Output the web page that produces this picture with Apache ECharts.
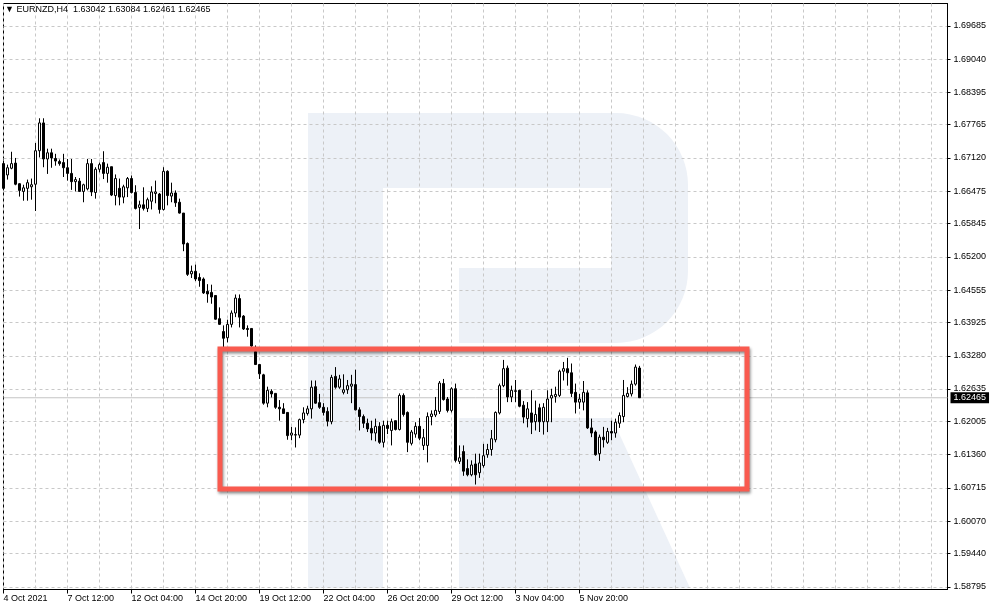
<!DOCTYPE html>
<html><head><meta charset="utf-8">
<script src="https://cdn.jsdelivr.net/npm/echarts@6.0.0/dist/echarts.min.js"></script>
<style>html,body{margin:0;padding:0;background:#fff}#c{width:994px;height:610px}</style>
</head><body><div id="c"></div>
<script>
const symbolName = 'EURNZD,H4';
const openVals = [
1.6701,1.6679,1.6692,1.6702,1.6662,1.6647,1.6653,1.6656,1.6661,1.6726,
1.6780,1.6710,1.6722,1.6711,1.6705,1.6703,1.6693,1.6682,1.6666,1.6667,
1.6647,1.6652,1.6701,1.6645,1.6690,1.6703,1.6682,1.6695,1.6639,1.6653,
1.6636,1.6654,1.6672,1.6645,1.6616,1.6621,1.6614,1.6628,1.6643,1.6642,
1.6612,1.6686,1.6638,1.6644,1.6626,1.6605,1.6546,1.6487,1.6492,1.6480,
1.6477,1.6453,1.6451,1.6445,1.6400,1.6375,1.6363,1.6389,1.6411,1.6439,
1.6405,1.6381,1.6381,1.6336,1.6311,1.6291,1.6236,1.6259,1.6255,1.6228,
1.6225,1.6218,1.6174,1.6174,1.6174,1.6204,1.6216,1.6225,1.6268,1.6237,
1.6228,1.6220,1.6200,1.6288,1.6267,1.6257,1.6262,1.6269,1.6272,1.6223,
1.6210,1.6197,1.6187,1.6178,1.6191,1.6160,1.6193,1.6183,1.6202,1.6185,
1.6251,1.6218,1.6158,1.6176,1.6191,1.6154,1.6154,1.6210,1.6213,1.6220,
1.6274,1.6244,1.6222,1.6264,1.6123,1.6142,1.6109,1.6097,1.6118,1.6101,
1.6115,1.6136,1.6146,1.6165,1.6217,1.6270,1.6304,1.6248,1.6260,1.6261,
1.6232,1.6206,1.6217,1.6200,1.6227,1.6200,1.6200,1.6246,1.6249,1.6251,
1.6298,1.6303,1.6295,1.6257,1.6238,1.6238,1.6256,1.6188,1.6180,1.6138,
1.6170,1.6160,1.6181,1.6178,1.6197,1.6210,1.6249,1.6254,1.6273,1.63042];
const highVals = [
1.6707,1.6699,1.6724,1.6712,1.6663,1.6660,1.6670,1.6672,1.6741,1.6789,
1.6789,1.6730,1.6730,1.6720,1.6709,1.6720,1.6710,1.6710,1.6675,1.6673,
1.6662,1.6710,1.6710,1.6694,1.6703,1.6725,1.6701,1.6695,1.6680,1.6672,
1.6660,1.6675,1.6678,1.6659,1.6629,1.6655,1.6635,1.6657,1.6668,1.6644,
1.6694,1.6688,1.6664,1.6649,1.6633,1.6605,1.6548,1.6503,1.6505,1.6488,
1.6480,1.6467,1.6466,1.6445,1.6422,1.6387,1.6398,1.6416,1.6447,1.6447,
1.6407,1.6387,1.6381,1.6348,1.6311,1.6293,1.6268,1.6263,1.6255,1.6242,
1.6236,1.6218,1.6190,1.6189,1.6206,1.6228,1.6231,1.6280,1.6280,1.6254,
1.6236,1.6228,1.6291,1.6306,1.6291,1.6292,1.6281,1.6291,1.6301,1.6228,
1.6214,1.6206,1.6202,1.6206,1.6199,1.6202,1.6202,1.6206,1.6202,1.6255,
1.6255,1.6220,1.6184,1.6199,1.6207,1.6186,1.6218,1.6222,1.6248,1.6279,
1.6283,1.6248,1.6267,1.6274,1.6154,1.6154,1.6127,1.6125,1.6138,1.6138,
1.6157,1.6157,1.6184,1.6220,1.6274,1.6320,1.6309,1.6270,1.6281,1.6262,
1.6240,1.6238,1.6261,1.6241,1.6235,1.6236,1.6261,1.6264,1.6268,1.6301,
1.6316,1.6324,1.6313,1.6274,1.6254,1.6279,1.6261,1.6206,1.6183,1.6175,
1.6190,1.6188,1.6202,1.6206,1.6218,1.6281,1.6267,1.6280,1.6311,1.63084];
const lowVals = [
1.6649,1.6670,1.6690,1.6659,1.6637,1.6629,1.6629,1.6631,1.6609,1.6713,
1.6694,1.6681,1.6693,1.6697,1.6697,1.6675,1.6668,1.6650,1.6647,1.6647,
1.6626,1.6649,1.6638,1.6633,1.6684,1.6671,1.6664,1.6638,1.6620,1.6620,
1.6624,1.6636,1.6643,1.6612,1.6574,1.6610,1.6607,1.6612,1.6624,1.6604,
1.6610,1.6620,1.6626,1.6617,1.6604,1.6531,1.6483,1.6479,1.6473,1.6462,
1.6448,1.6431,1.6429,1.6398,1.6388,1.6345,1.6354,1.6383,1.6403,1.6383,
1.6378,1.6365,1.6345,1.6310,1.6283,1.6233,1.6228,1.6247,1.6225,1.6202,
1.6215,1.6165,1.6164,1.6150,1.6168,1.6197,1.6212,1.6206,1.6235,1.6225,
1.6212,1.6191,1.6195,1.6264,1.6264,1.6253,1.6254,1.6236,1.6222,1.6183,
1.6188,1.6180,1.6164,1.6162,1.6157,1.6150,1.6176,1.6154,1.6183,1.6183,
1.6210,1.6141,1.6154,1.6169,1.6164,1.6145,1.6121,1.6193,1.6209,1.6215,
1.6241,1.6218,1.6218,1.6121,1.6118,1.6095,1.6094,1.6094,1.6078,1.6091,
1.6111,1.6130,1.6134,1.6160,1.6214,1.6267,1.6238,1.6238,1.6238,1.6228,
1.6197,1.6189,1.6176,1.6183,1.6180,1.6175,1.6180,1.6199,1.6237,1.6248,
1.6280,1.6270,1.6248,1.6216,1.6225,1.6222,1.6186,1.6170,1.6134,1.6124,
1.6150,1.6157,1.6164,1.6169,1.6188,1.6199,1.6247,1.6249,1.6270,1.62461];
const closeVals = [
1.6653,1.6693,1.6701,1.6661,1.6649,1.6654,1.6664,1.6660,1.6726,1.6780,
1.6710,1.6722,1.6712,1.6706,1.6701,1.6693,1.6682,1.6666,1.6670,1.6647,
1.6660,1.6701,1.6646,1.6690,1.6699,1.6682,1.6694,1.6640,1.6672,1.6636,
1.6656,1.6672,1.6645,1.6614,1.6621,1.6614,1.6631,1.6646,1.6646,1.6612,
1.6686,1.6639,1.6644,1.6625,1.6605,1.6545,1.6486,1.6492,1.6477,1.6474,
1.6450,1.6448,1.6442,1.6399,1.6389,1.6362,1.6389,1.6411,1.6440,1.6403,
1.6380,1.6379,1.6347,1.6311,1.6293,1.6236,1.6261,1.6254,1.6228,1.6225,
1.6216,1.6173,1.6178,1.6175,1.6204,1.6217,1.6225,1.6267,1.6236,1.6228,
1.6218,1.6201,1.6286,1.6267,1.6283,1.6262,1.6270,1.6273,1.6223,1.6210,
1.6197,1.6186,1.6178,1.6191,1.6160,1.6193,1.6187,1.6200,1.6185,1.6251,
1.6214,1.6160,1.6180,1.6191,1.6168,1.6169,1.6210,1.6215,1.6222,1.6275,
1.6243,1.6222,1.6264,1.6125,1.6130,1.6104,1.6097,1.6116,1.6097,1.6120,
1.6134,1.6146,1.6167,1.6218,1.6270,1.6303,1.6248,1.6261,1.6259,1.6230,
1.6209,1.6225,1.6199,1.6214,1.6200,1.6228,1.6244,1.6251,1.6253,1.6298,
1.6303,1.6295,1.6255,1.6238,1.6244,1.6257,1.6188,1.6178,1.6136,1.6170,
1.6165,1.6181,1.6178,1.6199,1.6212,1.6251,1.6255,1.6273,1.6306,1.62465];
const priceTicks = [1.58795,1.59440,1.60070,1.60715,1.61360,1.62005,1.62635,1.63280,1.63925,
  1.64555,1.65200,1.65845,1.66475,1.67120,1.67765,1.68395,1.69040,1.69685];
const timeTicks = ['4 Oct 2021','7 Oct 12:00','12 Oct 04:00','14 Oct 20:00','19 Oct 12:00',
  '22 Oct 04:00','26 Oct 20:00','29 Oct 12:00','3 Nov 04:00','5 Nov 20:00'];
const barsPerTimeTick = 16;
const barsPerGridLine = 8;
const totalSlots = 237;

const categories = [];
for (let i = 0; i < totalSlots; i++) categories.push(String(i));
const candleData = openVals.map((o, i) => [o, closeVals[i], lowVals[i], highVals[i]]);
const n = openVals.length;
const lastO = openVals[n-1], lastH = highVals[n-1], lastL = lowVals[n-1], lastC = closeVals[n-1];
const FONT = '"Liberation Sans", Arial, sans-serif';
const isTimeTick = (i) => i % barsPerTimeTick === 0 && (i / barsPerTimeTick) < timeTicks.length;
const wm = '#edf1f7';

const chart = echarts.init(document.getElementById('c'), null, {renderer: 'canvas'});
chart.setOption({
  animation: false,
  backgroundColor: '#fff',
  title: {
    text: '▼ ' + symbolName + '  ' + [lastO, lastH, lastL, lastC].map(v => v.toFixed(5)).join(' '),
    left: 5, top: 5, padding: 0,
    textStyle: {fontSize: 9, fontWeight: 'normal', color: '#000', fontFamily: FONT}
  },
  grid: {left: 3.5, right: 46.5, top: 3.5, bottom: 20.5, show: true, borderColor: '#000', borderWidth: 1, backgroundColor: 'transparent'},
  xAxis: {
    type: 'category', data: categories, boundaryGap: false,
    axisLine: {show: true, lineStyle: {color: '#000', width: 1}},
    axisTick: {show: true, interval: (i) => isTimeTick(i), length: 4, lineStyle: {color: '#000'}},
    axisLabel: {interval: (i) => isTimeTick(i), formatter: (v, i) => timeTicks[Math.round(Number(v) / barsPerTimeTick)] || '',
      align: 'left', fontSize: 9, color: '#000', margin: 5, fontFamily: FONT},
    splitLine: {show: true, interval: (i) => i % barsPerGridLine === 0, lineStyle: {color: '#c8c8c8', type: [3, 3], width: 1}}
  },
  yAxis: {
    type: 'value', position: 'right', min: 1.58743, max: 1.70118, scale: true,
    axisLine: {show: true, lineStyle: {color: '#000', width: 1}},
    axisTick: {show: true, customValues: priceTicks, length: 3, lineStyle: {color: '#000'}},
    axisLabel: {customValues: priceTicks, formatter: (v) => Number(v).toFixed(5), fontSize: 9, color: '#000', margin: 6, fontFamily: FONT},
    splitLine: {show: true, lineStyle: {color: '#c8c8c8', type: [3, 3], width: 1}}
  },
  series: [{
    type: 'line', silent: true, symbol: 'none', z: 1,
    data: [[categories[0], lastC], [categories[totalSlots - 1], lastC]],
    lineStyle: {color: '#c4c4c4', type: 'solid', width: 1},
    endLabel: {show: true, distance: 3, formatter: () => lastC.toFixed(5),
      backgroundColor: '#000', color: '#fff', fontSize: 9, fontFamily: FONT, padding: [1, 3, 1, 3]}
  }, {
    type: 'candlestick', data: candleData, barWidth: 2, clip: true, z: 2,
    itemStyle: {color: '#fff', color0: '#000', borderColor: '#000', borderColor0: '#000', borderWidth: 1}
  }],
  graphic: [
    {type: 'rect', z: -10, silent: true, shape: {x: 308, y: 113, width: 75, height: 475}, style: {fill: wm}},
    {type: 'rect', z: -10, silent: true, shape: {x: 383, y: 113, width: 229, height: 75}, style: {fill: wm}},
    {type: 'rect', z: -10, silent: true, shape: {x: 611, y: 113, width: 77, height: 230, r: [0, 72, 72, 0]}, style: {fill: wm}},
    {type: 'rect', z: -10, silent: true, shape: {x: 459, y: 268, width: 153, height: 75}, style: {fill: wm}},
    {type: 'polygon', z: -10, silent: true, shape: {points: [[459, 418], [612, 418], [690, 588], [459, 588]]}, style: {fill: wm}},
    {type: 'rect', z: 100, silent: true, shape: {x: 220, y: 349, width: 527, height: 140},
      style: {fill: 'none', stroke: '#f95a4f', lineWidth: 5, shadowColor: 'rgba(0,0,0,0.45)', shadowBlur: 3, shadowOffsetX: 1, shadowOffsetY: 2}}
  ]
});
</script></body></html>
